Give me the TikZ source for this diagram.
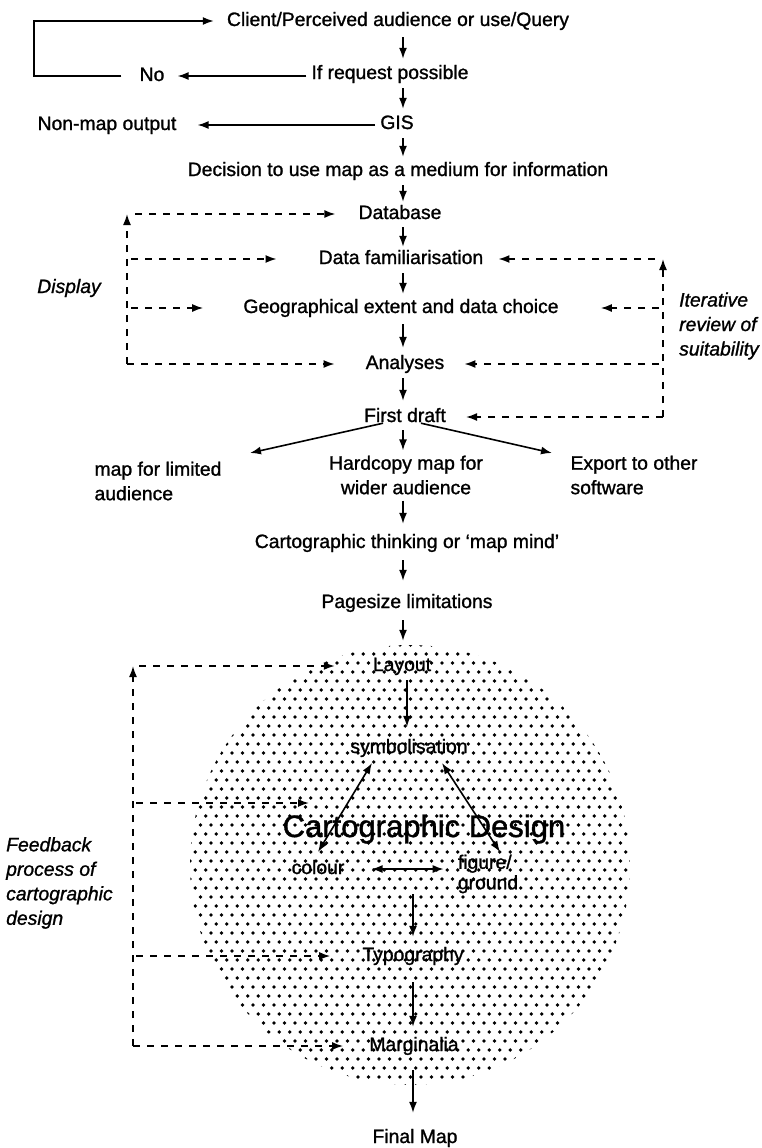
\documentclass[tikz,border=0pt]{standalone}
\usepackage{fontspec}
\setmainfont{Liberation Sans}[FakeBold=1.2]
\usetikzlibrary{arrows.meta,calc}
\newcommand{\txtsz}{\fontsize{19.35}{24.5}\selectfont}
\tikzset{
  txt/.style={font=\txtsz, inner sep=1pt, text height=14pt, text depth=4pt},
  mtxt/.style={font=\txtsz, inner sep=1pt, align=center},
  ltxt/.style={font=\txtsz, inner sep=1pt, align=left},
  itxt/.style={font=\txtsz\itshape, inner sep=1pt, align=left},
  arr/.style={-{Latex[length=11pt,width=8pt]}, line width=1.6pt},
  dbl/.style={{Latex[length=11pt,width=8pt]}-{Latex[length=11pt,width=8pt]}, line width=1.6pt},
  dsh/.style={arr, dash pattern=on 7pt off 7pt},
}
\begin{document}
\begin{tikzpicture}[x=1pt,y=-1pt]
\useasboundingbox (0,0) rectangle (762,1148);
% stippled disc
\begin{scope}
  \clip (410,865) circle (220);
  \foreach \j in {0,...,49} {
    \foreach \i in {0,...,43} {
      \fill ({190+\i*10.5+mod(\j,2)*5.25},{645+\j*9}) circle (1.85);
    }
  }
\end{scope}
% axes and helper coordinates
\coordinate (axA) at (403,0);
\coordinate (axB) at (407,0);
\coordinate (axC) at (413,0);
\coordinate (lpx) at (34,0);
\coordinate (dlx) at (127,0);
\coordinate (drx) at (663,0);
\coordinate (dlx2) at (133,0);
% nodes
\node[txt] (client) at (398,21) {Client/Perceived audience or use/Query};
\node[txt] (ifreq) at (390,74) {If request possible};
\node[txt] (no) at (152,76) {No};
\node[txt] (gis) at (397,124) {GIS};
\node[txt] (nonmap) at (107,125) {Non-map output};
\node[txt] (decision) at (398,171) {Decision to use map as a medium for information};
\node[txt] (database) at (400,214) {Database};
\node[txt] (datafam) at (401,259) {Data familiarisation};
\node[txt] (geo) at (401,308) {Geographical extent and data choice};
\node[txt] (analyses) at (405,364) {Analyses};
\node[txt] (firstdraft) at (405,417) {First draft};
\node[ltxt] (limited) at (158,481) {map for limited\\audience};
\node[mtxt] (hardcopy) at (406,475) {Hardcopy map for\\wider audience};
\node[ltxt] (export) at (634,475) {Export to other\\software};
\node[txt] (cartthink) at (407,543) {Cartographic thinking or `map mind'};
\node[txt] (pagesize) at (407,603) {Pagesize limitations};
\node[txt] (layout) at (402,666) {Layout};
\node[txt] (symbol) at (409,748) {symbolisation};
\node[font=\fontsize{31}{34}\selectfont, inner sep=1pt] (cartdesign) at (424,829) {Cartographic Design};
\node[txt] (colour) at (318,869) {colour};
\node[ltxt, font=\fontsize{19.35}{20.5}\selectfont] (figure) at (488,874) {figure/\\ground};
\node[txt] (typo) at (413,956) {Typography};
\node[txt] (margin) at (414,1046) {Marginalia};
\node[txt] (finalmap) at (415,1138) {Final Map};
\node[itxt] (display) at (69,288) {Display};
\node[itxt, anchor=west] (iterative) at (678,326) {Iterative\\review of\\suitability};
\node[itxt, anchor=west] (feedback) at (5,883) {Feedback\\process of\\cartographic\\design};
% top loop
\draw[arr, shorten <=17pt, shorten >=12pt] (no.west) -- (no -| lpx) -- (client -| lpx) -- (client.west);
\draw[arr, shorten <=4pt, shorten >=12pt] (no -| ifreq.west) -- (no.east);
\draw[arr, shorten <=4pt, shorten >=20pt] (nonmap -| gis.west) -- (nonmap.east);
% main column arrows
\draw[arr, shorten <=6pt, shorten >=5pt] (client.south -| axA) -- (ifreq.north -| axA);
\draw[arr, shorten <=4pt, shorten >=5pt] (ifreq.south -| axA) -- (gis.north -| axA);
\draw[arr, shorten <=4pt, shorten >=4pt] (gis.south -| axA) -- (decision.north -| axA);
\draw[arr, shorten <=4pt, shorten >=2pt] (decision.south -| axA) -- (database.north -| axA);
\draw[arr, shorten <=3pt, shorten >=2pt] (database.south -| axA) -- (datafam.north -| axA);
\draw[arr, shorten <=4pt, shorten >=4pt] (datafam.south -| axA) -- (geo.north -| axA);
\draw[arr, shorten <=6pt, shorten >=6pt] (geo.south -| axA) -- (analyses.north -| axA);
\draw[arr, shorten <=4pt, shorten >=6pt] (analyses.south -| axA) -- (firstdraft.north -| axA);
% branches
\coordinate (bl2) at (250,453);
\coordinate (br2) at (552,453);
\draw[arr] ([xshift=-22pt,yshift=4pt]firstdraft.south) -- (bl2);
\draw[arr] ([xshift=16pt,yshift=4pt]firstdraft.south) -- (br2);
\draw[arr, shorten <=3pt, shorten >=4pt] (firstdraft.south -| axA) -- (hardcopy.north -| axA);
\draw[arr, shorten <=5pt, shorten >=9pt] (hardcopy.south -| axA) -- (cartthink.north -| axA);
\draw[arr, shorten <=7pt, shorten >=12pt] (cartthink.south -| axA) -- (pagesize.north -| axA);
\draw[arr, shorten <=7pt, shorten >=15pt] (pagesize.south -| axA) -- (layout.north -| axA);
% left dashed (display)
\draw[dsh] (analyses -| dlx) -- (database -| dlx);
\draw[dsh, shorten <=8pt, shorten >=22pt] (database -| dlx) -- (database.west);
\draw[dsh, shorten <=4pt, shorten >=41pt] (datafam -| dlx) -- (datafam.west);
\draw[dsh, shorten <=4pt, shorten >=39pt] (geo -| dlx) -- (geo.west);
\draw[dsh, shorten >=30pt] (analyses -| dlx) -- (analyses.west);
% right dashed (iterative review)
\draw[dsh] (firstdraft -| drx) -- (datafam -| drx);
\draw[dsh, shorten <=8pt, shorten >=14pt] (datafam -| drx) -- (datafam.east);
\draw[dsh, shorten <=4pt, shorten >=41pt] (geo -| drx) -- (geo.east);
\draw[dsh, shorten <=4pt, shorten >=19pt] (analyses -| drx) -- (analyses.east);
\draw[dsh, shorten >=19pt] (firstdraft -| drx) -- (firstdraft.east);
% design disc arrows
\draw[arr, shorten <=4pt, shorten >=11pt] (layout.south -| axB) -- (symbol.north -| axB);
\coordinate (sc1) at (372,763);
\coordinate (sc2) at (318,852);
\coordinate (sf1) at (442,763);
\coordinate (sf2) at (500,852);
\draw[dbl] (sc1) -- (sc2);
\draw[dbl] (sf1) -- (sf2);
\draw[dbl, shorten <=26pt, shorten >=13pt] (colour.east) -- (colour -| figure.west);
\draw[arr, shorten >=9pt] (figure.south -| axC) -- (typo.north -| axC);
\draw[arr, shorten <=16pt, shorten >=9pt] (typo.south -| axC) -- (margin.north -| axC);
\draw[arr, shorten <=14pt, shorten >=15pt] (margin.south -| axC) -- (finalmap.north -| axC);
% feedback dashed
\coordinate (fb2) at (309,803);
\draw[dsh] (margin -| dlx2) -- (layout -| dlx2);
\draw[dsh, shorten <=6pt, shorten >=37pt] (layout -| dlx2) -- (layout.west);
\draw[dsh, shorten <=3pt] (fb2 -| dlx2) -- (fb2);
\draw[dsh, shorten <=3pt, shorten >=31pt] (typo -| dlx2) -- (typo.west);
\draw[dsh, shorten >=25pt] (margin -| dlx2) -- (margin.west);
\end{tikzpicture}
\end{document}
